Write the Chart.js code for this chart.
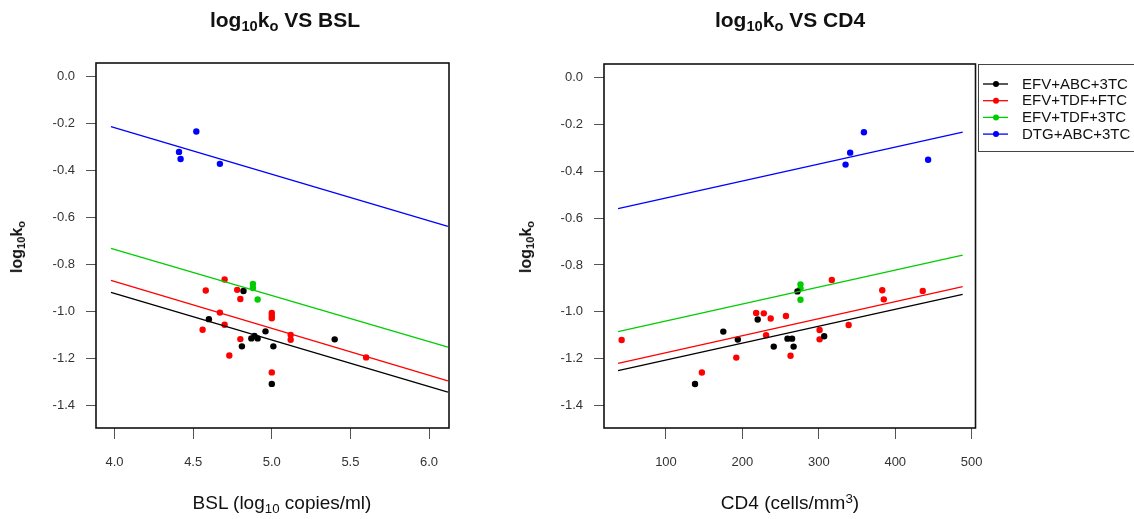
<!DOCTYPE html>
<html>
<head>
<meta charset="utf-8">
<script src="https://cdn.jsdelivr.net/npm/chart.js@4.4.1/dist/chart.umd.min.js"></script>
<style>
  html, body { margin: 0; padding: 0; background: #fff; }
  #wrap { position: relative; width: 1134px; height: 519px; overflow: hidden; font-family: 'Liberation Sans', Arial, sans-serif; color: #111; }
  canvas { position: absolute; top: 0; }
  .t { position: absolute; white-space: nowrap; line-height: 1; }
  .t sub { font-size: 70%; vertical-align: -0.28em; line-height: 0; }
  .t sup { font-size: 70%; vertical-align: 0.45em; line-height: 0; }
  .title { font-size: 21px; font-weight: bold; transform: translateX(-50%); }
  .xlab { font-size: 19px; transform: translateX(-50%); }
  .ylab { font-size: 16px; font-weight: bold; transform: translate(-50%, -50%) rotate(-90deg); }
</style>
</head>
<body>
<div id="wrap">
  <canvas id="c1" width="500" height="519" style="left:0px"></canvas>
  <canvas id="c2" width="614" height="519" style="left:520px"></canvas>
  <div class="t title" style="left:285px; top:9px">log<sub>10</sub>k<sub>o</sub> VS BSL</div>
  <div class="t title" style="left:790px; top:9px">log<sub>10</sub>k<sub>o</sub> VS CD4</div>
  <div class="t xlab" style="left:282px; top:493px">BSL (log<sub>10</sub> copies/ml)</div>
  <div class="t xlab" style="left:790px; top:493px">CD4 (cells/mm<sup>3</sup>)</div>
  <div class="t ylab" style="left:17px; top:247px">log<sub>10</sub>k<sub>o</sub></div>
  <div class="t ylab" style="left:526px; top:247px">log<sub>10</sub>k<sub>o</sub></div>
</div>
<script>
// ---- categories ----
const regimens = ['EFV+ABC+3TC', 'EFV+TDF+FTC', 'EFV+TDF+3TC', 'DTG+ABC+3TC'];
const regimenColors = ['#000000', '#FF0000', '#00CD00', '#0000FF'];

// ---- series values (log10 ko, BSL, CD4) ----
const logkEfvAbc = [-0.913, -1.033, -1.085, -1.115, -1.105, -1.115, -1.149, -1.149, -1.119, -1.309];
const bslEfvAbc  = [4.82, 4.60, 4.96, 4.87, 4.89, 4.91, 4.81, 5.01, 5.40, 5.00];
const cd4EfvAbc  = [272, 220, 175, 259, 307, 265, 241, 267, 194, 138];

const logkEfvTdfFtc = [-0.864, -0.908, -0.911, -0.947, -1.005, -1.007, -1.018, -1.029, -1.057, -1.078, -1.100, -1.118, -1.121, -1.188, -1.196, -1.260];
const bslEfvTdfFtc  = [4.70, 4.78, 4.58, 4.80, 4.67, 5.00, 5.00, 5.00, 4.70, 4.56, 5.12, 4.80, 5.12, 4.73, 5.60, 5.00];
const cd4EfvTdfFtc  = [317, 383, 436, 385, 218, 228, 257, 237, 339, 301, 231, 301, 42, 263, 192, 147];

const logkEfvTdf3tc = [-0.883, -0.900, -0.949];
const bslEfvTdf3tc  = [4.88, 4.88, 4.91];
const cd4EfvTdf3tc  = [276, 276, 276];

const logkDtgAbc = [-0.233, -0.320, -0.350, -0.371];
const bslDtgAbc  = [4.52, 4.41, 4.42, 4.67];
const cd4DtgAbc  = [359, 341, 443, 335];

// ---- fitted lines (endpoints) ----
const bslFitX = [3.977, 6.12];
const bslFitEfvAbc    = [-0.919, -1.344];
const bslFitEfvTdfFtc = [-0.868, -1.296];
const bslFitEfvTdf3tc = [-0.731, -1.152];
const bslFitDtgAbc    = [-0.212, -0.637];

const cd4FitX = [37.3, 488.2];
const cd4FitEfvAbc    = [-1.252, -0.926];
const cd4FitEfvTdfFtc = [-1.221, -0.893];
const cd4FitEfvTdf3tc = [-1.085, -0.758];
const cd4FitDtgAbc    = [-0.559, -0.232];

// ---- tick labels ----
const bslTicks  = [4.0, 4.5, 5.0, 5.5, 6.0];
const cd4Ticks  = [100, 200, 300, 400, 500];
const logkTicks = [0.0, -0.2, -0.4, -0.6, -0.8, -1.0, -1.2, -1.4];

const logkSets = [logkEfvAbc, logkEfvTdfFtc, logkEfvTdf3tc, logkDtgAbc];
const bslSets  = [bslEfvAbc, bslEfvTdfFtc, bslEfvTdf3tc, bslDtgAbc];
const cd4Sets  = [cd4EfvAbc, cd4EfvTdfFtc, cd4EfvTdf3tc, cd4DtgAbc];
const bslFits  = [bslFitEfvAbc, bslFitEfvTdfFtc, bslFitEfvTdf3tc, bslFitDtgAbc];
const cd4Fits  = [cd4FitEfvAbc, cd4FitEfvTdfFtc, cd4FitEfvTdf3tc, cd4FitDtgAbc];

Chart.defaults.font.family = "'Liberation Sans', Arial, sans-serif";
Chart.defaults.font.size = 13;
Chart.defaults.color = '#333';

function buildDatasets(xSets, fitX, fits) {
  const ds = [];
  regimens.forEach((name, i) => {
    ds.push({
      type: 'line', label: name + ' fit', isFit: true,
      data: fitX.map((x, k) => ({ x: x, y: fits[i][k] })),
      borderColor: regimenColors[i], borderWidth: 1.3, pointRadius: 0, showLine: true, fill: false
    });
  });
  regimens.forEach((name, i) => {
    ds.push({
      type: 'scatter', label: name,
      data: xSets[i].map((x, k) => ({ x: x, y: logkSets[i][k] })),
      backgroundColor: regimenColors[i], borderColor: regimenColors[i],
      pointRadius: 3.2, pointBorderWidth: 0, showLine: false
    });
  });
  return ds;
}

const framePlugin = {
  id: 'frame',
  afterDraw(chart) {
    const a = chart.chartArea, ctx = chart.ctx;
    ctx.save();
    ctx.strokeStyle = '#111';
    ctx.lineWidth = 1.6;
    ctx.strokeRect(a.left, a.top, a.right - a.left, a.bottom - a.top);
    ctx.restore();
  }
};

const legendPlugin = {
  id: 'rlegend',
  afterDraw(chart, args, opts) {
    if (!opts || !opts.show) return;
    const ctx = chart.ctx;
    const x0 = opts.x, y0 = opts.y;
    ctx.save();
    ctx.strokeStyle = '#444';
    ctx.lineWidth = 1;
    ctx.strokeRect(x0 + 0.5, y0 + 0.5, 220, 87);
    const pts = chart.data.datasets.filter(d => !d.isFit);
    pts.forEach((d, i) => {
      const y = y0 + 20 + i * 16.7;
      ctx.strokeStyle = d.borderColor;
      ctx.lineWidth = 1.3;
      ctx.beginPath(); ctx.moveTo(x0 + 5, y); ctx.lineTo(x0 + 30, y); ctx.stroke();
      ctx.fillStyle = d.backgroundColor;
      ctx.beginPath(); ctx.arc(x0 + 18, y, 3, 0, Math.PI * 2); ctx.fill();
      ctx.fillStyle = '#111';
      ctx.font = "15px 'Liberation Sans', Arial, sans-serif";
      ctx.textBaseline = 'middle';
      ctx.textAlign = 'left';
      ctx.fillText(d.label, x0 + 44, y + 0.5);
    });
    ctx.restore();
  }
};

function makeChart(id, xSets, fitX, fits, xTicks, xMin, xMax, yWidth, pad, legend) {
  return new Chart(document.getElementById(id), {
    type: 'scatter',
    data: { datasets: buildDatasets(xSets, fitX, fits) },
    options: {
      responsive: false, animation: false, devicePixelRatio: 1,
      layout: { padding: pad },
      plugins: { legend: { display: false }, tooltip: { enabled: false }, rlegend: legend },
      scales: {
        x: {
          type: 'linear', min: xMin, max: xMax,
          afterBuildTicks: s => { s.ticks = xTicks.map(v => ({ value: v })); },
          afterFit: s => { s.height = 91; },
          ticks: { padding: 16, maxRotation: 0, autoSkip: false,
                   callback: v => (xTicks === bslTicks ? Number(v).toFixed(1) : String(v)) },
          grid: { drawOnChartArea: false, drawTicks: true, tickLength: 11, color: '#555', lineWidth: 1 },
          border: { display: false }
        },
        y: {
          type: 'linear', min: -1.497, max: 0.059,
          afterBuildTicks: s => { s.ticks = logkTicks.map(v => ({ value: v })); },
          afterFit: s => { s.width = yWidth; },
          ticks: { padding: 11, autoSkip: false, callback: v => Number(v).toFixed(1) },
          grid: { drawOnChartArea: false, drawTicks: true, tickLength: 10, color: '#555', lineWidth: 1 },
          border: { display: false }
        }
      }
    },
    plugins: [framePlugin, legendPlugin]
  });
}

makeChart('c1', bslSets, bslFitX, bslFits, bslTicks, 3.882, 6.127, 96,
  { left: 0, top: 63, right: 51, bottom: 0 }, { show: false });
makeChart('c2', cd4Sets, cd4FitX, cd4Fits, cd4Ticks, 18.9, 505, 84,
  { left: 0, top: 64, right: 158.5, bottom: 0 }, { show: true, x: 458, y: 64 });
</script>
</body>
</html>
